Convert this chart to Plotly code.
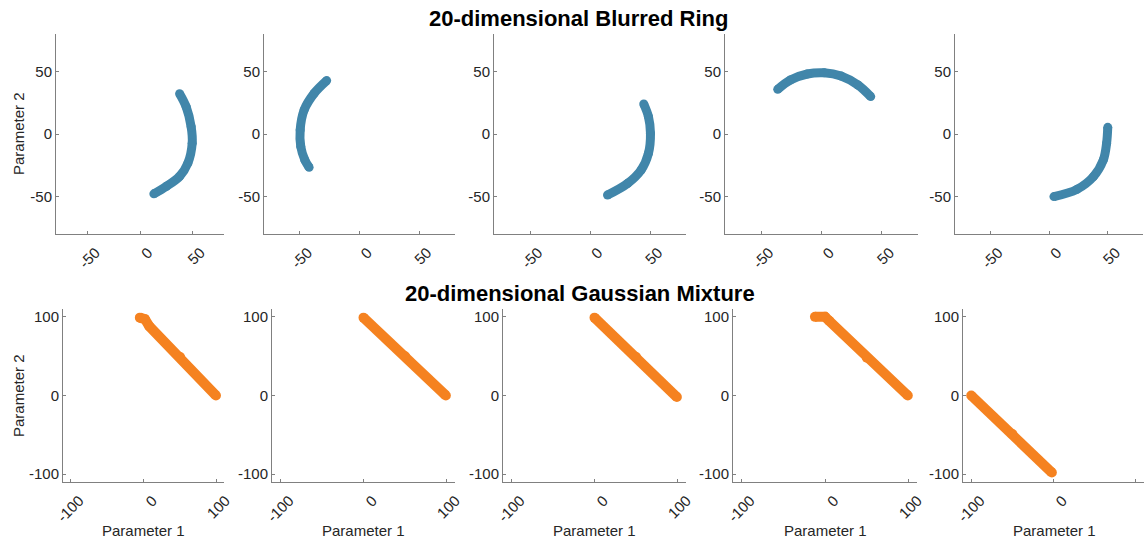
import plotly.graph_objects as go

# ---- data (centre lines of the point clouds) ----
ring_x = [
    [37.7, 44.0, 48.7, 49.7, 45.6, 37.7, 25.2, 13.2],
    [-27.5, -38.0, -46.4, -49.7, -49.2, -45.8, -42.2],
    [44.8, 48.7, 50.4, 48.7, 42.6, 31.4, 14.6],
    [-36.3, -25.8, -11.8, 2.2, 16.2, 30.2, 40.8],
    [50.0, 49.0, 46.2, 37.8, 23.8, 4.2],
]
ring_y = [
    [32.3, 21.7, 5.8, -7.4, -23.3, -33.9, -41.8, -47.9],
    [42.7, 32.5, 19.2, 3.2, -10.1, -20.8, -26.7],
    [24.0, 13.9, 0.5, -15.5, -28.8, -39.5, -48.8],
    [35.7, 43.2, 48.0, 49.0, 46.4, 39.2, 29.9],
    [5.3, -7.5, -20.8, -34.1, -44.3, -50.1],
]
gauss_x = [
    [-5, 2, 8, 50, 99],
    [0, 50, 99],
    [0, 50, 99],
    [-12, 0, 5, 50, 99],
    [-100, -50, -2],
]
gauss_y = [
    [99, 97, 88, 49, 0],
    [99, 50, 0],
    [99, 49, -2],
    [100, 100, 95, 48, 0],
    [0, -49, -98],
]
top_ticks = [-50, 0, 50]
bot_ticks = [-100, 0, 100]

BLUE = "#4186aa"
ORANGE = "#f58220"
AXC = "#808080"
TXT = "#262626"
FONT = "Liberation Sans"
W, H = 1144, 543

top_dom_px = [(56, 224), (264, 455), (494, 686), (725, 918), (955, 1143)]
bot_dom_px = [(63, 224), (272, 455), (503, 686), (733, 917), (963, 1144)]
top_y = [1 - 234 / H, 1 - 34 / H]
bot_y = [1 - 482 / H, 1 - 309 / H]

fig = go.Figure()
layout = {}


def ax(idx):
    return ("" if idx == 1 else str(idx))


def axis_style(rng, ticks, dom):
    return dict(
        domain=dom, range=rng, tickvals=ticks, ticktext=[str(t) for t in ticks],
        showline=True, linecolor=AXC, linewidth=1, ticks="inside", ticklen=3,
        tickcolor=AXC, showgrid=False, zeroline=False, automargin=False,
        tickfont=dict(family=FONT, size=15, color=TXT), fixedrange=True,
    )


for i in range(5):
    # top row
    n = i + 1
    fig.add_trace(go.Scatter(
        x=ring_x[i], y=ring_y[i], mode="lines+markers",
        line=dict(color=BLUE, width=9, shape="spline"), marker=dict(color=BLUE, size=9),
        xaxis="x" + ax(n), yaxis="y" + ax(n), showlegend=False, hoverinfo="skip"))
    xa = axis_style([-80, 80], top_ticks, [top_dom_px[i][0] / W, top_dom_px[i][1] / W])
    xa.update(anchor="y" + ax(n), tickangle=-45, ticklabelshift=8, ticklabelstandoff=3)
    ya = axis_style([-80, 80], top_ticks, top_y)
    ya.update(anchor="x" + ax(n))
    layout["xaxis" + ax(n)] = xa
    layout["yaxis" + ax(n)] = ya

    # bottom row
    m = i + 6
    fig.add_trace(go.Scatter(
        x=gauss_x[i], y=gauss_y[i], mode="lines+markers",
        line=dict(color=ORANGE, width=10), marker=dict(color=ORANGE, size=10),
        xaxis="x" + ax(m), yaxis="y" + ax(m), showlegend=False, hoverinfo="skip"))
    xa = axis_style([-110, 110], bot_ticks, [bot_dom_px[i][0] / W, bot_dom_px[i][1] / W])
    xa.update(anchor="y" + ax(m), tickangle=-45, ticklabelshift=9, ticklabelstandoff=3)
    ya = axis_style([-110, 110], bot_ticks, bot_y)
    ya.update(anchor="x" + ax(m))
    layout["xaxis" + ax(m)] = xa
    layout["yaxis" + ax(m)] = ya


def note(text, x, y, size, color=TXT, angle=0):
    return dict(text=text, x=x / W, y=1 - y / H, xref="paper", yref="paper",
                xanchor="center", yanchor="middle", showarrow=False,
                textangle=angle, font=dict(family=FONT, size=size, color=color))


annotations = [
    note("<b>20-dimensional Blurred Ring</b>", 579, 18, 22, "black"),
    note("<b>20-dimensional Gaussian Mixture</b>", 580, 293, 22, "black"),
    note("Parameter 2", 18, 134, 15, angle=-90),
    note("Parameter 2", 18, 396, 15, angle=-90),
]
for i in range(5):
    cx = (bot_dom_px[i][0] + bot_dom_px[i][1]) / 2
    if i == 4:
        cx = 1054
    annotations.append(note("Parameter 1", cx, 530, 15))

fig.update_layout(
    width=W, height=H, margin=dict(l=0, r=0, t=0, b=0),
    paper_bgcolor="white", plot_bgcolor="white",
    annotations=annotations, **layout,
)

fig.write_html("out.html", config={"displayModeBar": False})
